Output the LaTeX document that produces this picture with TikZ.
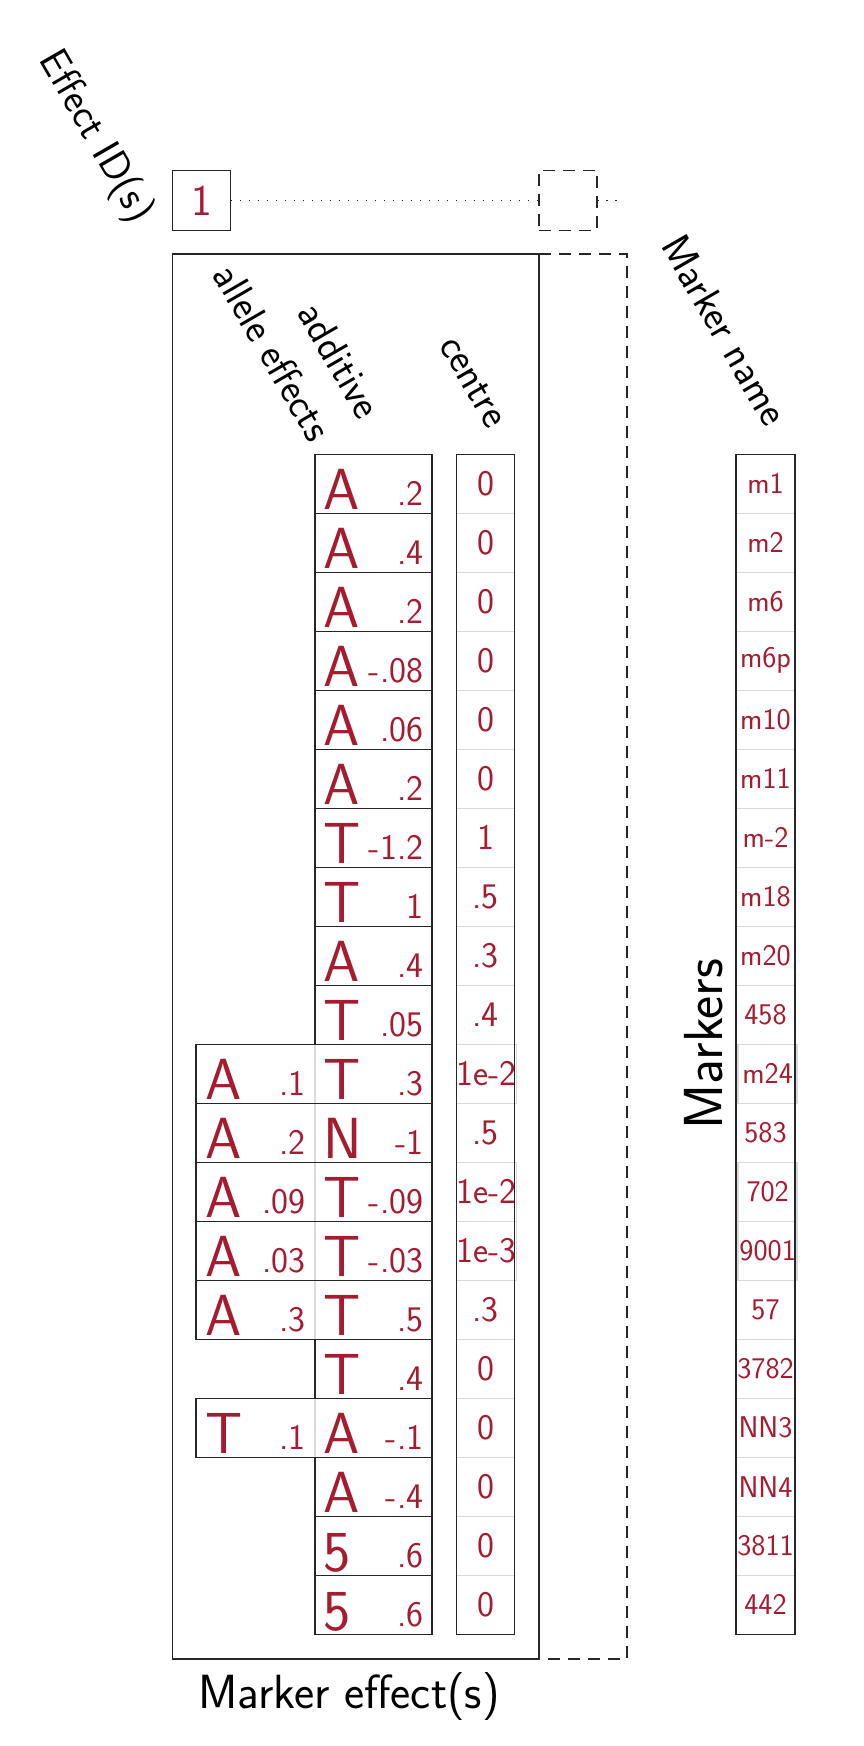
\documentclass[tikz,border=0pt]{standalone}
\usepackage{fontspec}
\usetikzlibrary{positioning}

\definecolor{crimson}{HTML}{A51C30}
\definecolor{rulegrey}{HTML}{DADADA}
\newcommand{\fsize}[1]{\fontsize{#1}{#1}\selectfont}
\newcommand{\cellpair}[2]{\makebox[100pt]{\fsize{58}#1\hfill\raisebox{4pt}{\fsize{36}#2}}}

\begin{document}
\begin{tikzpicture}[x=1pt,y=-1pt,line width=1.6pt,font=\sffamily,
  frame/.style={draw=black!85,inner sep=0pt,outer sep=0pt},
  id box/.style={frame,minimum width=58pt,minimum height=60pt,text=crimson,font=\sffamily\fsize{44}},
  add cell/.style={frame,minimum width=117pt,minimum height=59pt,text height=55pt,text depth=4pt,text=crimson},
  allele cell/.style={add cell,minimum width=119pt},
  centre cell/.style={draw=rulegrey,inner sep=0pt,outer sep=0pt,minimum width=58pt,minimum height=59pt,text=crimson,font=\sffamily\fsize{36}},
  name cell/.style={centre cell,minimum width=59pt,font=\sffamily\fsize{30}},
  head/.style={rotate=-60,inner sep=0pt,font=\sffamily\fsize{41}},
  dots/.style={black!85,line width=1.5pt,dash pattern=on 1.5pt off 7.5pt},
  dashes/.style={black!85,dash pattern=on 12pt off 8pt}]

  \useasboundingbox (0,0) rectangle (864,1746);

  % effect id
  \node[id box] (idbox) at (201.5,200.4) {1};
  \node[id box,dashes,right=308.5pt of idbox] (idnext) {};
  \coordinate[right=21pt of idnext] (idend);
  \draw[dots] (idbox) -- (idnext) (idnext) -- (idend);
  \node[head] (idlabel) at (95,137) {Effect ID(s)};

  % rows: additive, centre, marker name
  \foreach \base/\ef/\cv/\mk [count=\n] in {A/.2/0/m1,A/.4/0/m2,A/.2/0/m6,A/-.08/0/m6p,
      A/.06/0/m10,A/.2/0/m11,T/-1.2/1/m-2,T/1/.5/m18,A/.4/.3/m20,T/.05/.4/458,
      T/.3/1e-2/m24,N/-1/.5/583,T/-.09/1e-2/702,T/-.03/1e-3/9001,T/.5/.3/57,
      T/.4/0/3782,A/-.1/0/NN3,A/-.4/0/NN4,5/.6/0/3811,5/.6/0/442}{
    \node[add cell] (add\n) at (373.5,{424.8+59*\n}) {\cellpair{\base}{\ef}};
    \node[centre cell,right=24.5pt of add\n] (ce\n) {\cv};
    \node[name cell,right=221.5pt of ce\n] (mk\n) {\mk};
  }
  \foreach \r/\base/\ef in {11/A/.1,12/A/.2,13/A/.09,14/A/.03,15/A/.3,17/T/.1}{
    \node[allele cell,left=0pt of add\r] (al\r) {\cellpair{\base}{\ef}};
    \draw[rulegrey,shorten <=0.8pt,shorten >=0.8pt] (al\r.north east) -- (al\r.south east);
  }
  \draw[black!85] (ce1.north west) rectangle (ce20.south east);
  \draw[black!85] (mk1.north west) rectangle (mk20.south east);

  % marker effects box
  \node[frame,minimum width=366.4pt,minimum height=1405pt] (effects) at (355.8,956.5) {};
  \draw[dashes] (effects.north east) -- ++(88,0) |- (effects.south east);

  \node[head] (allelelabel) at (273,352) {allele effects};
  \node[head] (addlabel) at (340,360) {additive};
  \node[head] (centrelabel) at (473,382) {centre};
  \node[head] (namelabel) at (725,330) {Marker name};
  \node[rotate=90,font=\sffamily\fsize{55}] (markerslabel) at (704,1044) {Markers};
  \node[font=\sffamily\fsize{48}] (efflabel) at (349,1697) {Marker effect(s)};
\end{tikzpicture}
\end{document}
